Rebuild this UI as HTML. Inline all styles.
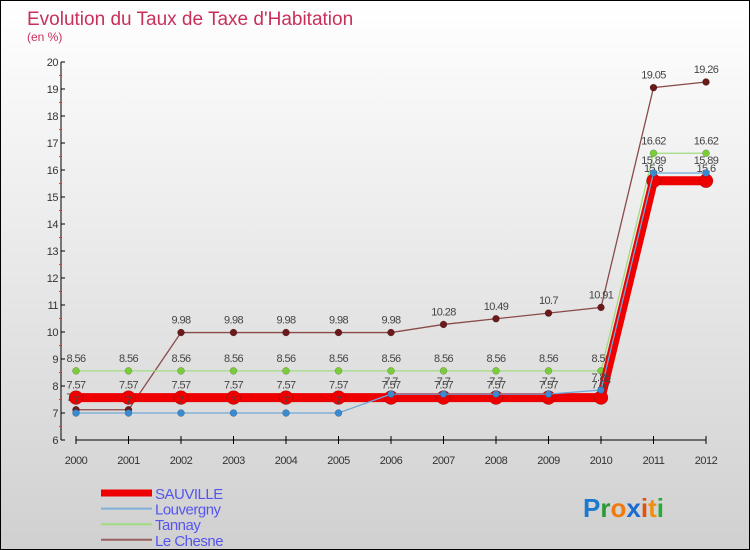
<!DOCTYPE html>
<html><head><meta charset="utf-8"><style>
body{margin:0}
#c{position:relative;width:750px;height:550px;box-sizing:border-box;border:1px solid #000;background:linear-gradient(#fff,#d0d0d0);font-family:"Liberation Sans",sans-serif;overflow:hidden}
</style></head><body>
<div id="c">
<svg id="s" width="748" height="548" style="position:absolute;left:0;top:0">
<text x="26" y="24" font-size="19" fill="#c8305a">Evolution du Taux de Taxe d'Habitation</text>
<text x="26" y="40" font-size="12" fill="#c8305a">(en %)</text>
</svg>
</div>
<script>
const years=[2000,2001,2002,2003,2004,2005,2006,2007,2008,2009,2010,2011,2012];
const sauville=[7.57,7.57,7.57,7.57,7.57,7.57,7.57,7.57,7.57,7.57,7.57,15.6,15.6];
const louvergny=[7,7,7,7,7,7,7.7,7.7,7.7,7.7,7.85,15.89,15.89];
const tannay=[8.56,8.56,8.56,8.56,8.56,8.56,8.56,8.56,8.56,8.56,8.56,16.62,16.62];
const chesne=[7.12,7.12,9.98,9.98,9.98,9.98,9.98,10.28,10.49,10.7,10.91,19.05,19.26];
const yTicks=[6,7,8,9,10,11,12,13,14,15,16,17,18,19,20];
const X=i=>75+i*52.5, Y=v=>439-(v-6)*27;
const s=document.getElementById('s'),NS='http://www.w3.org/2000/svg';
function el(t,a,p){const e=document.createElementNS(NS,t);for(const k in a)e.setAttribute(k,a[k]);(p||s).appendChild(e);return e;}
let e;
e=el('line',{x1:60,y1:Y(20),x2:60,y2:Y(6),stroke:'#000'});


e=el('line',{x1:75,y1:439,x2:705,y2:439,stroke:'#000'});


yTicks.forEach(v=>{
 el('line',{x1:60,x2:64,y1:Y(v),y2:Y(v),stroke:'#000'});
 if(v<20) el('line',{x1:58,x2:61,y1:Y(v+0.5),y2:Y(v+0.5),stroke:'#e33'});
 e=el('text',{x:57,y:Y(v)+4,'font-size':11,'text-anchor':'end',fill:'#333','letter-spacing':'-0.5'});
 e.textContent=v;
 
 
});
years.forEach((yr,i)=>{
 el('line',{x1:X(i),x2:X(i),y1:435,y2:443,stroke:'#000'});
 e=el('text',{x:X(i),y:463,'font-size':11,'text-anchor':'middle',fill:'#333','letter-spacing':'-0.5'});
 e.textContent=yr;
 
 
});
function series(d,col,w,r,dot,name,lbl){
 const g=el('g',{});
 
 
 el('polyline',{points:d.map((v,i)=>X(i)+','+Y(v)).join(' '),fill:'none',stroke:col,'stroke-width':w},g);
 d.forEach((v,i)=>{
  e=el('circle',{cx:X(i),cy:Y(v),r:r,fill:dot,stroke:'rgba(0,0,0,0.3)','stroke-width':0.5},g);
  
  
  if(lbl){e=el('text',{x:X(i),y:Y(v)-9,'font-size':11,'text-anchor':'middle',fill:'#444','letter-spacing':'-0.6'},g);e.textContent=v;}
 });
}
series(chesne,'#8a4a4a',1.3,3.5,'#6a1a1a','le-chesne-series',true);
series(tannay,'#a0dc80',1.3,3.5,'#7acc3a','tannay-series',true);
series(sauville,'#e00',9,7,'#e00','sauville-series',true);
series(louvergny,'#70a8d8',1.3,3.5,'#3a8ad0','louvergny-series',true);
const leg=[['SAUVILLE','#e00',7],['Louvergny','#80b0d8',2],['Tannay','#a0dc80',2],['Le Chesne','#9a6060',2]];
leg.forEach((l,i)=>{
 const y=492+i*15.6;
 e=el('line',{x1:100,x2:151,y1:y,y2:y,stroke:l[1],'stroke-width':l[2]});
 
 
 e=el('text',{x:154,y:y+6,'font-size':15,fill:'#5555ee','letter-spacing':'-0.5'});
 e.textContent=l[0];
 
 
});
const logo=el('text',{x:582,y:516,'font-size':26,'font-weight':'bold'});


[['P','#1a7ad0'],['r','#2a9a3a'],['o','#f07a10'],['x','#1a6ad0'],['i','#e05010'],['t','#f09010'],['i','#2aaa3a']].forEach(c=>{el('tspan',{fill:c[1]},logo).textContent=c[0];});
</script>
</body></html>
